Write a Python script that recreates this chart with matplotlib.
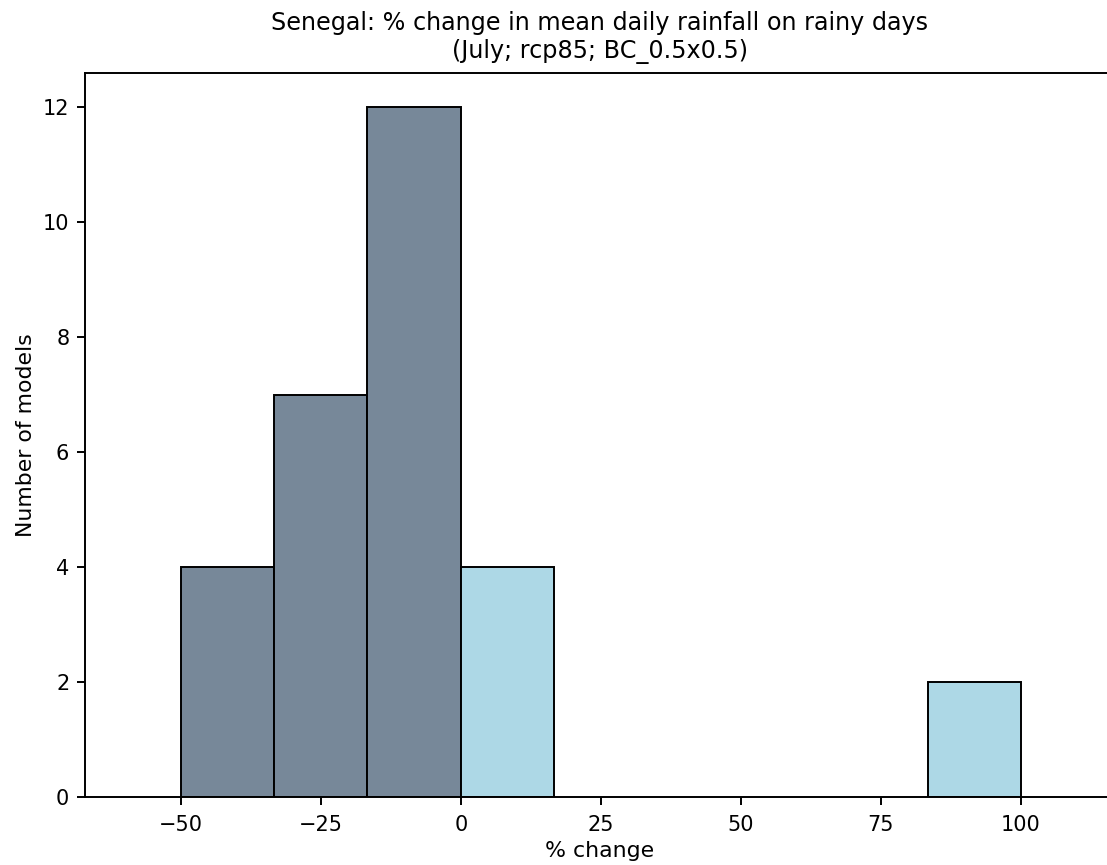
import matplotlib
matplotlib.use('Agg')
import matplotlib.pyplot as plt
import numpy as np

# histogram bins (% change) and model counts per bin
bin_edges = np.linspace(-50, 100, 10)
counts = np.array([4, 7, 12, 4, 0, 0, 0, 0, 2])

# sizes picked to match the (upscaled looking) reference
plt.rcParams['axes.linewidth'] = 1.4
plt.rcParams['xtick.labelsize'] = 15
plt.rcParams['ytick.labelsize'] = 15
plt.rcParams['xtick.major.size'] = 5.8
plt.rcParams['ytick.major.size'] = 5.8
plt.rcParams['xtick.major.width'] = 1.4
plt.rcParams['ytick.major.width'] = 1.4
plt.rcParams['xtick.major.pad'] = 7.5
plt.rcParams['ytick.major.pad'] = 5.5

fig = plt.figure(figsize=(11.07, 8.65), dpi=100)
ax = fig.add_axes([85 / 1107, 68 / 865, 1030 / 1107, 724 / 865])

lefts = bin_edges[:-1]
widths = np.diff(bin_edges)
colors = np.where(lefts < 0, 'lightslategray', 'lightblue')
nonzero = counts > 0
ax.bar(lefts[nonzero], counts[nonzero], width=widths[nonzero], align='edge',
       color=colors[nonzero], edgecolor='black', linewidth=1.4)

ax.set_xlim(-67.1, 116.8)
ax.set_ylim(0, 12.6)
ax.set_xticks([-50, -25, 0, 25, 50, 75, 100])
ax.set_yticks([0, 2, 4, 6, 8, 10, 12])
ax.set_xticklabels(['\u221250', '\u221225', '0', '25', '50', '75', '100'])

ax.set_xlabel('% change', fontsize=15.8, labelpad=4)
ax.set_ylabel('Number of models', fontsize=15.8, labelpad=5)
ax.set_title('Senegal: % change in mean daily rainfall on rainy days\n(July; rcp85; BC_0.5x0.5)',
             fontsize=17.2, pad=11)

fig.savefig('out.png', dpi=100)
